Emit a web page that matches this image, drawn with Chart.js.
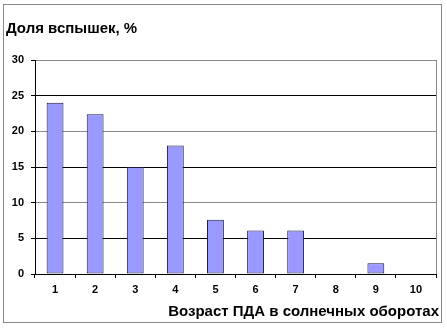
<!DOCTYPE html>
<html>
<head>
<meta charset="utf-8">
<script src="https://cdn.jsdelivr.net/npm/chart.js@4/dist/chart.umd.min.js"></script>
<style>
  html, body { margin: 0; padding: 0; background: #fff; }
  #wrap { width: 447px; height: 329px; position: relative; }
</style>
</head>
<body>
<div id="wrap"><canvas id="chart" width="447" height="329"></canvas></div>
<script>
const categories = ['1', '2', '3', '4', '5', '6', '7', '8', '9', '10'];
const shares = [24, 22.4, 15, 18, 7.6, 6.1, 6.1, 0, 1.5, 0];
const yTicks = [0, 5, 10, 15, 20, 25, 30];
const yTitle = 'Доля вспышек, %';
const xTitle = 'Возраст ПДА в солнечных оборотах';

// frame, plot border and the two titles
const decor = {
  id: 'decor',
  beforeDraw(chart) {
    const c = chart.ctx;
    c.save();
    c.fillStyle = '#fff';
    c.fillRect(0, 0, chart.width, chart.height);
    c.strokeStyle = '#888';
    c.lineWidth = 1;
    c.strokeRect(3.5, 4.5, 438, 318);
    c.restore();
  },
  afterDraw(chart) {
    const c = chart.ctx;
    const a = chart.chartArea;
    c.save();
    c.strokeStyle = '#888';
    c.lineWidth = 1;
    c.beginPath();
    c.moveTo(Math.round(a.right) + 0.5, a.top);
    c.lineTo(Math.round(a.right) + 0.5, a.bottom);
    c.stroke();
    c.fillStyle = '#000';
    c.font = 'bold 15px "Liberation Sans", Arial, sans-serif';
    c.textBaseline = 'middle';
    c.textAlign = 'left';
    c.fillText(yTitle, 6, 29);
    c.textAlign = 'right';
    c.fillText(xTitle, 439, 312);
    c.restore();
  }
};

const tickFont = { family: '"Liberation Sans", Arial, sans-serif', size: 11, weight: 'bold' };

new Chart(document.getElementById('chart'), {
  type: 'bar',
  data: {
    labels: categories,
    datasets: [{
      data: shares,
      backgroundColor: '#9999ff',
      borderColor: '#1a1a40',
      borderWidth: 1,
      borderSkipped: false,
      categoryPercentage: 1,
      barPercentage: 0.42
    }]
  },
  options: {
    responsive: false,
    animation: false,
    devicePixelRatio: 1,
    layout: { padding: { top: 60, left: 0, right: 11, bottom: 0 } },
    plugins: { legend: { display: false }, tooltip: { enabled: false } },
    scales: {
      x: {
        afterFit(s) { s.height = 55; },
        grid: { drawOnChartArea: false, offset: true, tickLength: 4, tickColor: '#000' },
        border: { color: '#000' },
        ticks: { color: '#000', font: tickFont, padding: 5, maxRotation: 0 }
      },
      y: {
        min: 0,
        max: 30,
        afterFit(s) { s.width = 35; },
        afterBuildTicks(s) { s.ticks = yTicks.map(v => ({ value: v })); },
        grid: {
          color: ctx => (ctx.tick && ctx.tick.value % 10 === 5) ? '#000' : '#888',
          tickLength: 4,
          tickColor: '#000'
        },
        border: { color: '#000' },
        ticks: { color: '#000', font: tickFont, padding: 7 }
      }
    }
  },
  plugins: [decor]
});
</script>
</body>
</html>
